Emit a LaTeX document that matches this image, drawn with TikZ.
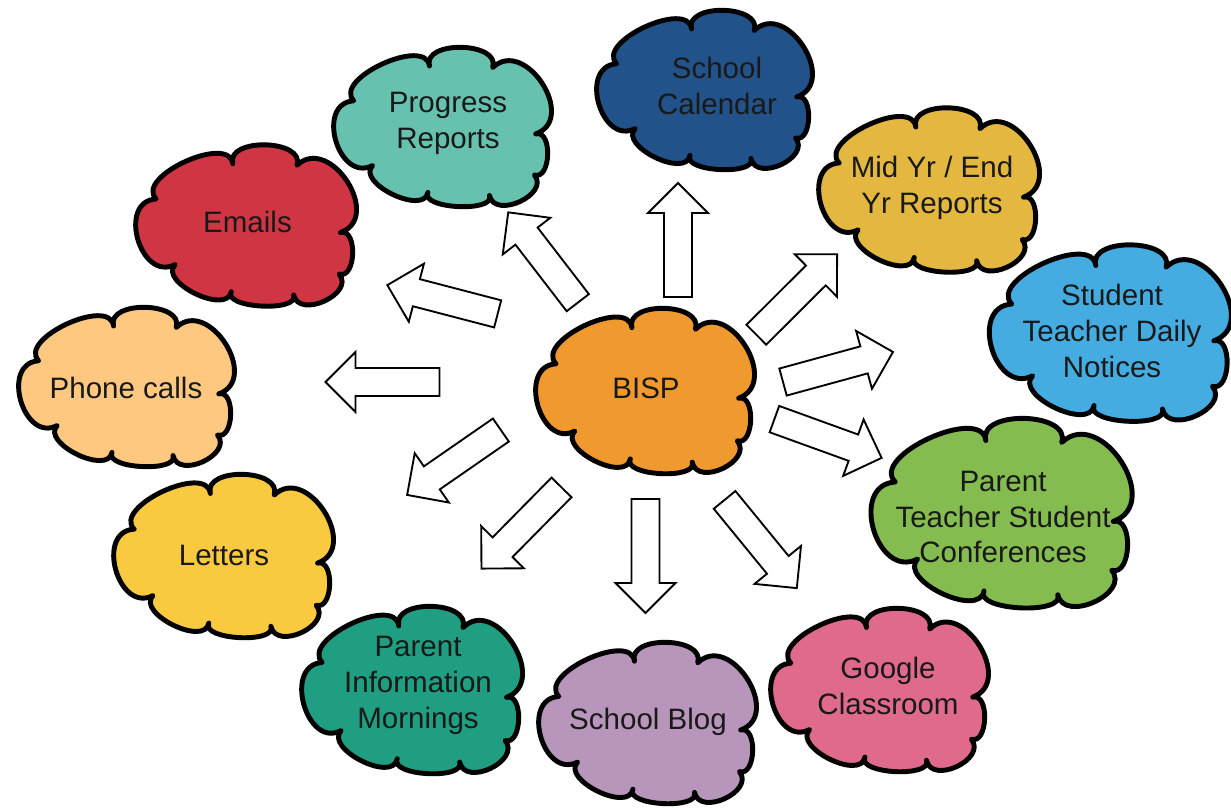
\documentclass[tikz,border=0pt]{standalone}
\usepackage{fontspec}
\setmainfont{Liberation Sans}
\definecolor{cBISP}{HTML}{F0992E}
\definecolor{cCal}{HTML}{22528A}
\definecolor{cProg}{HTML}{66C2AE}
\definecolor{cEmail}{HTML}{CF3542}
\definecolor{cPhone}{HTML}{FFC880}
\definecolor{cLetter}{HTML}{F9C940}
\definecolor{cPIM}{HTML}{1F9E82}
\definecolor{cBlog}{HTML}{B896BB}
\definecolor{cGoogle}{HTML}{E06A8C}
\definecolor{cPTSC}{HTML}{84BC50}
\definecolor{cStud}{HTML}{44ACE0}
\definecolor{cMid}{HTML}{E4B840}
\tikzset{
  cloudline/.style={draw=black, line width=4.2pt, line join=round},
  arrowline/.style={draw=black, fill=white, line width=1.6pt, line join=miter},
  label/.style={align=center, inner sep=0pt, text=black!90, font=\fontsize{25.2pt}{30.7pt}\selectfont},
}
\newcommand\cloudpuff[5]{%
  \draw[cloudline, fill=#5, shift={(#1,#2)}, xscale=#3, yscale=#4]
    (-0.399,-0.16) .. controls (-0.499,-0.297) and (-0.065,-0.570) ..
    (-0.049,-0.38) .. controls (-0.081,-0.545) and (0.283,-0.533) ..
    (0.244,-0.37) .. controls (0.394,-0.566) and (0.640,-0.045) ..
    (0.443,0.05) .. controls (0.522,0.022) and (0.514,0.344) ..
    (0.437,0.31) .. controls (0.511,0.432) and (0.253,0.594) ..
    (0.229,0.44) .. controls (0.259,0.549) and (-0.095,0.524) ..
    (-0.056,0.42) .. controls (-0.074,0.570) and (-0.391,0.359) ..
    (-0.312,0.25) .. controls (-0.471,0.363) and (-0.579,-0.145) ..
    cycle;}
\newcommand\blockarrow[3]{%
  \draw[arrowline, shift={(#1,#2)}, rotate=#3]
    (-57,-14) -- (27,-14) -- (27,-30) -- (57,0) -- (27,30) -- (27,14) -- (-57,14) -- cycle;}
\begin{document}
\begin{tikzpicture}[x=0.03cm, y=-0.03cm]
\useasboundingbox (0,0) rectangle (1231,807);
% clouds
\cloudpuff{642.5}{390}{217}{164}{cBISP}
\cloudpuff{702}{89}{214}{158}{cCal}
\cloudpuff{440}{126}{216}{158}{cProg}
\cloudpuff{926.5}{189}{219}{163}{cMid}
\cloudpuff{1107.5}{332}{240}{175}{cStud}
\cloudpuff{998.5}{512}{259}{188}{cPTSC}
\cloudpuff{877}{689}{216}{162}{cGoogle}
\cloudpuff{645}{722}{216}{160}{cBlog}
\cloudpuff{409.5}{689}{219}{166}{cPIM}
\cloudpuff{221}{555}{218}{162}{cLetter}
\cloudpuff{124}{386}{214}{158}{cPhone}
\cloudpuff{243.5}{224.5}{219}{160}{cEmail}
% labels
\node[label] (bisp) at (646,388) {BISP};
\node[label] (cal) at (717,86) {School\\Calendar};
\node[label] (prog) at (448,123) {Progress\\Reports};
\node[label] (mid) at (932,188) {Mid Yr / End\\Yr Reports};
\node[label] (stud) at (1112,331) {Student\\Teacher Daily\\Notices};
\node[label] (ptsc) at (1003,517) {Parent\\Teacher Student\\Conferences};
\node[label] (google) at (888,686) {Google\\Classroom};
\node[label] (blog) at (648,722) {School Blog};
\node[label] (pim) at (418,685) {Parent\\Information\\Mornings};
\node[label] (letters) at (224,555) {Letters};
\node[label] (phone) at (126,388) {Phone calls};
\node[label] (emails) at (247.5,222) {Emails};
% block arrows
\blockarrow{678}{240}{90}
\blockarrow{543}{257.5}{127.6}
\blockarrow{442.5}{299.5}{165.4}
\blockarrow{382.5}{382}{180}
\blockarrow{454}{462.5}{214.7}
\blockarrow{521.5}{528}{225.4}
\blockarrow{645.5}{556}{270}
\blockarrow{760.7}{544}{-50.7}
\blockarrow{828}{438.5}{-19.9}
\blockarrow{838}{367}{15.3}
\blockarrow{796.7}{294.5}{44.9}
\end{tikzpicture}
\end{document}
